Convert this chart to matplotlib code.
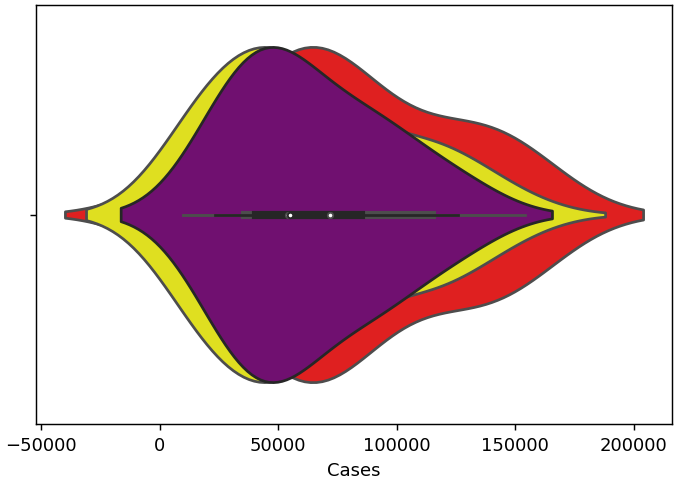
"""
Violin comparison of case counts - three overlaid groups
"""
import colorsys
import numpy as np
import matplotlib
matplotlib.use("Agg")
import matplotlib.pyplot as plt
import matplotlib.colors as mcolors

# Case counts per group (drawn in this order: red, yellow, purple)
cases_red = [9820, 35150, 42030, 52210, 57980, 63060, 67940, 72010, 78120,
             85960, 104100, 125870, 132040, 147950, 154100]
cases_yellow = [9710, 12030, 15960, 20050, 24010, 27970, 36020, 37990, 41030,
                45010, 47980, 51040, 54000, 56970, 61020, 66010, 71980, 80040,
                86050, 94020, 110050, 113960, 120030, 127980, 147100]
cases_purple = [23210, 30030, 36040, 45080, 51020, 55010, 62050, 79960, 90010,
                100030, 125800]

group_colors = ["red", "yellow", "purple"]
x_label = "Cases"


def desaturate(color, prop=0.75):
    r, g, b = mcolors.to_rgb(color)
    h, l, s = colorsys.rgb_to_hls(r, g, b)
    return colorsys.hls_to_rgb(h, l, s * prop)


def draw_violin(ax, values, color, width=0.8, lw=1.5):
    """Horizontal violin with inner box, seaborn style."""
    data = np.asarray(values, dtype=float)
    face = desaturate(color)
    lum = colorsys.rgb_to_hls(*face)[1] * 0.6
    gray = (lum, lum, lum)

    # Gaussian KDE, Scott's rule, cut=2
    bw = len(data) ** (-1 / 5) * data.std(ddof=1)
    support = np.linspace(data.min() - 2 * bw, data.max() + 2 * bw, 100)
    dens = np.exp(-0.5 * ((support[:, None] - data[None, :]) / bw) ** 2).sum(axis=1)
    dens = dens / dens.max() * width / 2

    ax.fill_between(support, -dens, dens, facecolor=face, edgecolor=gray,
                    linewidth=lw)

    # inner box
    q25, q50, q75 = np.percentile(data, [25, 50, 75])
    fence = 1.5 * (q75 - q25)
    lo = data[data >= q25 - fence].min()
    hi = data[data <= q75 + fence].max()
    ax.plot([lo, hi], [0, 0], linewidth=lw, color=gray)
    ax.plot([q25, q75], [0, 0], linewidth=lw * 3, color=gray)
    ax.scatter(q50, 0, zorder=3, color="white", edgecolor=gray,
               s=np.square(lw * 2))


fig = plt.figure(figsize=(674 / 130, 485 / 130), dpi=130)
ax = fig.add_axes([36 / 674, 61 / 485, 636 / 674, 419 / 485])

for values, color in zip([cases_red, cases_yellow, cases_purple], group_colors):
    draw_violin(ax, values, color)

ax.set_ylim(0.5, -0.5)
ax.set_yticks([0])
ax.set_yticklabels([""])
ax.set_xlabel(x_label)

fig.savefig("out.png", dpi=130, facecolor="white")
